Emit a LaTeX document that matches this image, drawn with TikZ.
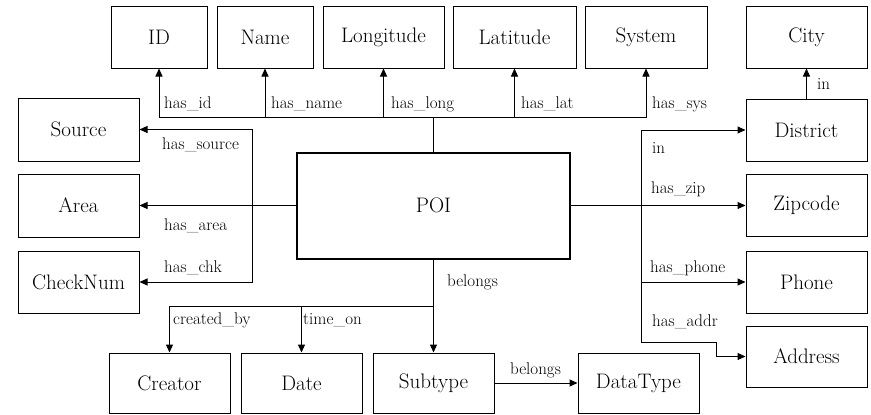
\documentclass[tikz,border=0pt]{standalone}
\usetikzlibrary{arrows.meta}
\begin{document}
\begin{tikzpicture}[x=1pt,y=-1pt,
  box/.style={draw,line width=1pt,inner sep=0pt,font=\rmfamily\fontsize{21}{24}\selectfont},
  lbl/.style={anchor=west,inner sep=0pt,font=\rmfamily\fontsize{17}{20}\selectfont},
  arr/.style={line width=1pt,-{Triangle[length=8pt,width=7pt]}},
  trunk/.style={line width=1.6pt}]
\useasboundingbox (0,0) rectangle (871,415);
% top row
\node[box,minimum width=96pt,minimum height=62pt] (ID) at (159,37) {ID};
\node[box,minimum width=96pt,minimum height=62pt] (Name) at (265,37) {Name};
\node[box,minimum width=121pt,minimum height=62pt] (Long) at (383.5,37) {Longitude};
\node[box,minimum width=123pt,minimum height=62pt] (Lat) at (514.5,37) {Latitude};
\node[box,minimum width=122pt,minimum height=62pt] (Sys) at (646,37) {System};
\node[box,minimum width=121pt,minimum height=62pt] (City) at (806.5,37) {City};
% left column
\node[box,minimum width=121pt,minimum height=63pt] (Source) at (78.5,129.5) {Source};
\node[box,minimum width=121pt,minimum height=63pt] (Area) at (78.5,205.5) {Area};
\node[box,minimum width=121pt,minimum height=62pt] (Check) at (78.5,282) {CheckNum};
% right column
\node[box,minimum width=121pt,minimum height=62pt] (District) at (806.5,130) {District};
\node[box,minimum width=121pt,minimum height=62pt] (Zip) at (806.5,205.5) {Zipcode};
\node[box,minimum width=121pt,minimum height=62pt] (Phone) at (806.5,282) {Phone};
\node[box,minimum width=121pt,minimum height=61pt] (Addr) at (806.5,356.5) {Address};
% center
\node[box,line width=2pt,minimum width=273pt,minimum height=106pt] (POI) at (433.5,205.5) {POI};
% bottom row
\node[box,minimum width=121pt,minimum height=60pt] (Creator) at (169.5,383) {Creator};
\node[box,minimum width=121pt,minimum height=60pt] (Date) at (301.5,383) {Date};
\node[box,minimum width=121pt,minimum height=60pt] (Sub) at (433.5,383) {Subtype};
\node[box,minimum width=121pt,minimum height=60pt] (DT) at (638.5,383) {DataType};
% junctions
\coordinate (tj) at (433.5,117);
\coordinate (lj) at (252,205.5);
\coordinate (rj) at (641,205.5);
\coordinate (bj) at (433.5,306);
\coordinate (ab) at (716,342);
% top connectors
\draw[trunk] (POI.north) -- (tj);
\draw[arr] (tj) -| (ID.south);
\draw[arr] (tj) -| (Name.south);
\draw[arr] (tj) -| (Long.south);
\draw[arr] (tj) -| (Lat.south);
\draw[arr] (tj) -| (Sys.south);
\draw[arr] (District.north) -- (City.south);
% left connectors
\draw[trunk] (POI.west) -- (lj);
\draw[arr] (lj) -- (Area.east);
\draw[arr] (lj) |- (Source.east);
\draw[arr] (lj) |- (Check.east);
% right connectors
\draw[trunk] (POI.east) -- (rj);
\draw[arr] (rj) -- (Zip.west);
\draw[arr] (rj) |- (District.west);
\draw[arr] (rj) |- (Phone.west);
\draw[arr] (rj) |- (ab) |- (Addr.west);
% bottom connectors
\draw[trunk] (POI.south) -- (bj);
\draw[arr] (bj) -- (Sub.north);
\draw[arr] (bj) -| (Creator.north);
\draw[arr] (bj) -| (Date.north);
\draw[arr] (Sub.east) -- (DT.west);
% labels
\node[lbl] (l1) at (164,104) {has\_id};
\node[lbl] (l2) at (271,104) {has\_name};
\node[lbl] (l3) at (391,104) {has\_long};
\node[lbl] (l4) at (521,104) {has\_lat};
\node[lbl] (l5) at (652,104) {has\_sys};
\node[lbl] (l6) at (817,84) {in};
\node[lbl] (l7) at (162,145) {has\_source};
\node[lbl] (l8) at (164,226) {has\_area};
\node[lbl] (l9) at (164,268) {has\_chk};
\node[lbl] (l10) at (447,282) {belongs};
\node[lbl] (l11) at (173,320) {created\_by};
\node[lbl] (l12) at (303,320) {time\_on};
\node[lbl] (l13) at (510,370) {belongs};
\node[lbl] (l14) at (652,148) {in};
\node[lbl] (l15) at (651,189) {has\_zip};
\node[lbl] (l16) at (650,268) {has\_phone};
\node[lbl] (l17) at (652,322) {has\_addr};
\end{tikzpicture}
\end{document}
